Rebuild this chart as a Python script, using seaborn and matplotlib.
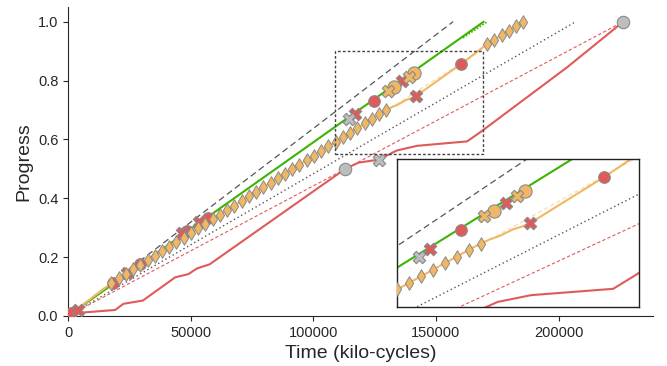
import matplotlib
matplotlib.use("Agg")
import matplotlib.pyplot as plt
import seaborn as sns
from matplotlib.patches import Rectangle

sns.set_style("ticks")
plt.rcParams['font.family'] = ['Liberation Sans', 'DejaVu Sans']

RED = "#e05a5a"
ORANGE = "#f0b865"
GREEN = "#3cb500"
GRAY = "#bdbdbd"
EDGE = "#8a8a8a"

# straight reference / forecast lines
ideal_x = [0, 157000]
ideal_y = [0.0, 1.0]
dotted_x = [0, 207000]
dotted_y = [0.0, 1.0]
red_dash_x = [0, 226400]
red_dash_y = [0.0, 1.0]
green_x = [0, 169500]
green_y = [0.0, 1.0]
green_fc_x = [161000, 171000]
green_fc_y = [0.945, 1.0]
orange_fc_x = [129000, 169000]
orange_fc_y = [0.693, 0.905]

# red run
red_x = [1000, 19200, 22600, 30500, 43700, 49100, 52500, 57700, 113100, 118500,
         126700, 134000, 142300, 162700, 168200, 203500, 226400]
red_y = [0.008, 0.02, 0.041, 0.052, 0.131, 0.142, 0.161, 0.175, 0.50, 0.521,
         0.531, 0.562, 0.578, 0.593, 0.625, 0.845, 1.0]

# orange run: checkpoints (diamonds) + unmarked middle part
diamond_x = [17650, 20600, 23550, 26500, 29450, 32400, 35350, 38300, 41250, 44200,
             47150, 50100, 53050, 56000, 58950, 61900, 64850, 67800, 70750, 73700,
             76650, 79600, 82550, 85500, 88450, 91400, 94350, 97300, 100250, 103200,
             106150, 109100, 112050, 115000, 117950, 120900, 123850, 126800, 129750]
diamond_y = [0.111, 0.127, 0.142, 0.158, 0.173, 0.189, 0.204, 0.220, 0.235, 0.251,
             0.266, 0.282, 0.297, 0.313, 0.328, 0.344, 0.359, 0.375, 0.390, 0.406,
             0.421, 0.437, 0.452, 0.468, 0.483, 0.499, 0.514, 0.530, 0.545, 0.561,
             0.576, 0.592, 0.607, 0.623, 0.638, 0.654, 0.669, 0.685, 0.700]
orange_mid_x = [132100, 134500, 137900, 140300, 142000, 160400]
orange_mid_y = [0.710, 0.718, 0.734, 0.741, 0.748, 0.857]
diamond_end_x = [170900, 173840, 176780, 179720, 182660, 185600]
diamond_end_y = [0.924, 0.939, 0.954, 0.969, 0.984, 0.998]

# event markers
red_circle_x = [1200, 18500, 29400, 48700, 56900, 124870, 160400]
red_circle_y = [0.010, 0.113, 0.176, 0.289, 0.331, 0.732, 0.857]
red_cross_x = [4200, 24000, 46400, 53600, 117180, 136030, 141980]
red_cross_y = [0.020, 0.147, 0.282, 0.320, 0.686, 0.797, 0.748]
orange_circle_x = [133050, 140910]
orange_circle_y = [0.778, 0.825]
orange_cross_x = [130650, 138830]
orange_cross_y = [0.765, 0.812]
gray_circle_x = [113100, 226400]
gray_circle_y = [0.50, 1.0]
gray_cross_x = [114530, 126700]
gray_cross_y = [0.669, 0.531]


def draw(ax):
    sns.lineplot(x=ideal_x, y=ideal_y, ax=ax, color="#555555", lw=0.9,
                 linestyle=(0, (5, 3)), zorder=1)
    sns.lineplot(x=dotted_x, y=dotted_y, ax=ax, color="#555555", lw=1,
                 linestyle=(0, (1, 2)), zorder=1)
    sns.lineplot(x=red_dash_x, y=red_dash_y, ax=ax, color=RED, lw=0.8,
                 linestyle=(0, (3, 2)), zorder=1)
    sns.lineplot(x=red_x, y=red_y, ax=ax, color=RED, lw=1.5, sort=False,
                 estimator=None, zorder=2)
    sns.lineplot(x=green_x, y=green_y, ax=ax, color=GREEN, lw=1.5, zorder=2)
    sns.lineplot(x=green_fc_x, y=green_fc_y, ax=ax, color=GREEN, lw=1.2,
                 linestyle=(0, (1, 1)), zorder=2)
    ox = [0] + diamond_x + orange_mid_x + diamond_end_x
    oy = [0.0] + diamond_y + orange_mid_y + diamond_end_y
    sns.lineplot(x=ox, y=oy, ax=ax, color=ORANGE, lw=1.5, sort=False,
                 estimator=None, zorder=2)
    sns.lineplot(x=orange_fc_x, y=orange_fc_y, ax=ax, color=ORANGE, lw=1,
                 alpha=0.45, linestyle=(0, (3, 2)), zorder=2)

    kw = dict(ax=ax, edgecolor=EDGE, linewidth=0.8, legend=False)
    sns.scatterplot(x=red_circle_x, y=red_circle_y, marker="o", s=70, color=RED, zorder=3, **kw)
    sns.scatterplot(x=red_cross_x, y=red_cross_y, marker="X", s=80, color=RED, zorder=3, **kw)
    sns.scatterplot(x=orange_circle_x, y=orange_circle_y, marker="o", s=90, color=ORANGE, zorder=3, **kw)
    sns.scatterplot(x=orange_cross_x, y=orange_cross_y, marker="X", s=80, color=ORANGE, zorder=3, **kw)
    sns.scatterplot(x=gray_circle_x, y=gray_circle_y, marker="o", s=80, color=GRAY, zorder=3, **kw)
    sns.scatterplot(x=gray_cross_x, y=gray_cross_y, marker="X", s=80, color=GRAY, zorder=3, **kw)
    sns.scatterplot(x=diamond_x + diamond_end_x, y=diamond_y + diamond_end_y,
                    marker="d", s=48, color=ORANGE, zorder=4, ax=ax,
                    edgecolor=EDGE, linewidth=0.7, legend=False)


fig = plt.figure(figsize=(6.67, 3.66), dpi=100)
ax = fig.add_axes([0.102, 0.137, 0.877, 0.844])
draw(ax)
ax.set_xlim(0, 238500)
ax.set_ylim(0, 1.05)
ax.set_xticks([0, 50000, 100000, 150000, 200000])
ax.set_yticks([0.0, 0.2, 0.4, 0.6, 0.8, 1.0])
ax.ticklabel_format(axis="x", style="plain")
ax.tick_params(labelsize=10.5)
ax.set_xlabel("Time (kilo-cycles)", fontsize=14)
ax.set_ylabel("Progress", fontsize=14)
sns.despine(ax=ax)

ax.add_patch(Rectangle((109000, 0.55), 60000, 0.35, fill=False,
                       ls=(0, (2, 1.5)), lw=1, ec="#444444", zorder=5))

ax_in = fig.add_axes([0.5952, 0.1612, 0.3621, 0.4044])
draw(ax_in)
ax_in.set_xlim(109000, 169000)
ax_in.set_ylim(0.55, 0.90)
ax_in.set_xticks([])
ax_in.set_yticks([])
ax_in.set_xlabel("")
ax_in.set_ylabel("")
for sp in ax_in.spines.values():
    sp.set_visible(True)
    sp.set_color("#222222")
    sp.set_linewidth(1)

fig.savefig("out.png", dpi=100)
